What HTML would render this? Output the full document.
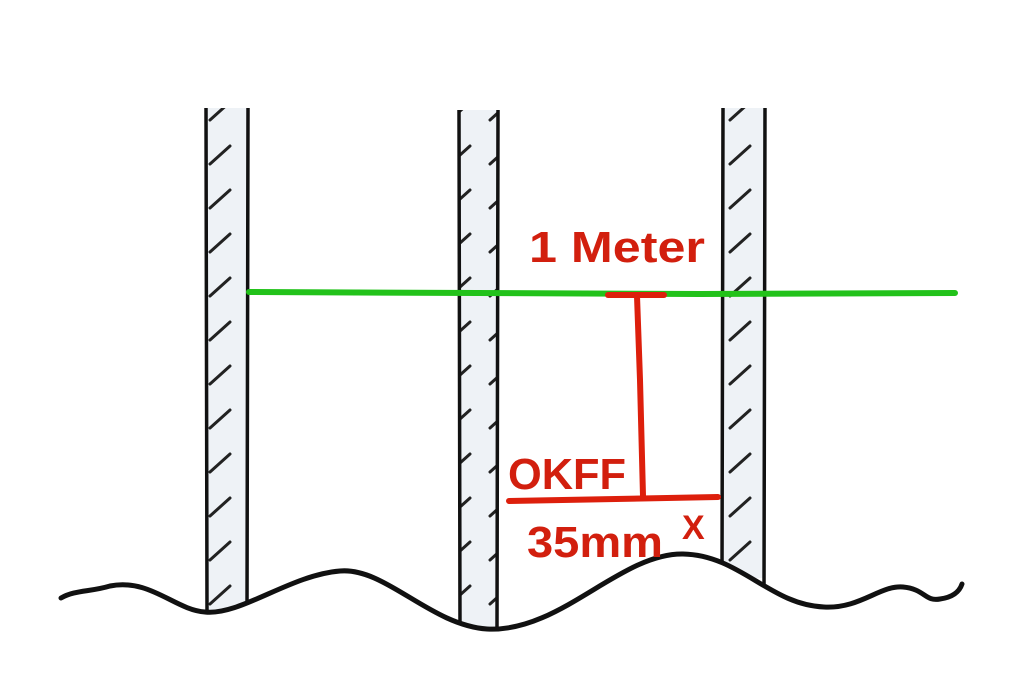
<!DOCTYPE html>
<html><head><meta charset="utf-8"><style>
html,body{margin:0;padding:0;background:#fff;width:1024px;height:683px;overflow:hidden}
svg text{font-family:"Liberation Sans",sans-serif;font-weight:bold;fill:#d21f0e}
</style></head><body>
<svg width="1024" height="683" viewBox="0 0 1024 683" xmlns="http://www.w3.org/2000/svg">
<defs>
<pattern id="h" x="0" y="0" width="40" height="44" patternUnits="userSpaceOnUse">
<path d="M10 32 L30 14" stroke="#222" stroke-width="3" stroke-linecap="round"/>
</pattern>
</defs>
<g>
<rect x="206" y="108" width="42" height="506" fill="#eef2f6"/>
<rect x="206" y="108" width="42" height="506" fill="url(#h)"/>
<path d="M206 108 L207 612 M248 108 L247 612" stroke="#111" stroke-width="3.5" fill="none"/>
<rect x="459" y="110" width="39" height="520" fill="#eef2f6"/>
<rect x="459" y="110" width="39" height="520" fill="url(#h)"/>
<path d="M459 110 L460 628 M498 110 L497 628" stroke="#111" stroke-width="3.5" fill="none"/>
<rect x="723" y="108" width="42" height="470" fill="#eef2f6"/>
<rect x="723" y="108" width="42" height="470" fill="url(#h)"/>
<path d="M723 108 L722 576 M765 108 L764 595" stroke="#111" stroke-width="3.5" fill="none"/>
</g>
<path d="M61 598 C75 590 90 592 110 586 C150 578 175 610 205 612 C240 616 290 575 340 571 C385 567 430 625 487 629 C560 633 620 553 683 554 C740 555 770 605 824 607 C860 609 880 585 903 587 C925 589 925 602 940 599 C955 597 960 590 962 584 L1024 584 L1024 683 L0 683 L0 598 Z" fill="#fff"/>
<path d="M61 598 C75 590 90 592 110 586 C150 578 175 610 205 612 C240 616 290 575 340 571 C385 567 430 625 487 629 C560 633 620 553 683 554 C740 555 770 605 824 607 C860 609 880 585 903 587 C925 589 925 602 940 599 C955 597 960 590 962 584" stroke="#111" stroke-width="5" fill="none" stroke-linecap="round"/>
<path d="M249 292 L700 294 L955 293" stroke="#22c21a" stroke-width="6" fill="none" stroke-linecap="round"/>
<g stroke="#dd1f0c" stroke-width="6" fill="none" stroke-linecap="round">
<path d="M608 295 L664 295"/>
<path d="M637 296 L640 380 L643 496"/>
<path d="M509 501 L718 497"/>
</g>
<text x="529" y="262" font-size="44" textLength="176" lengthAdjust="spacingAndGlyphs">1 Meter</text>
<text x="508" y="489" font-size="44" textLength="118" lengthAdjust="spacingAndGlyphs">OKFF</text>
<text x="527" y="557" font-size="44" textLength="136" lengthAdjust="spacingAndGlyphs">35mm</text>
<text x="682" y="539" font-size="34">X</text>
</svg>
</body></html>
